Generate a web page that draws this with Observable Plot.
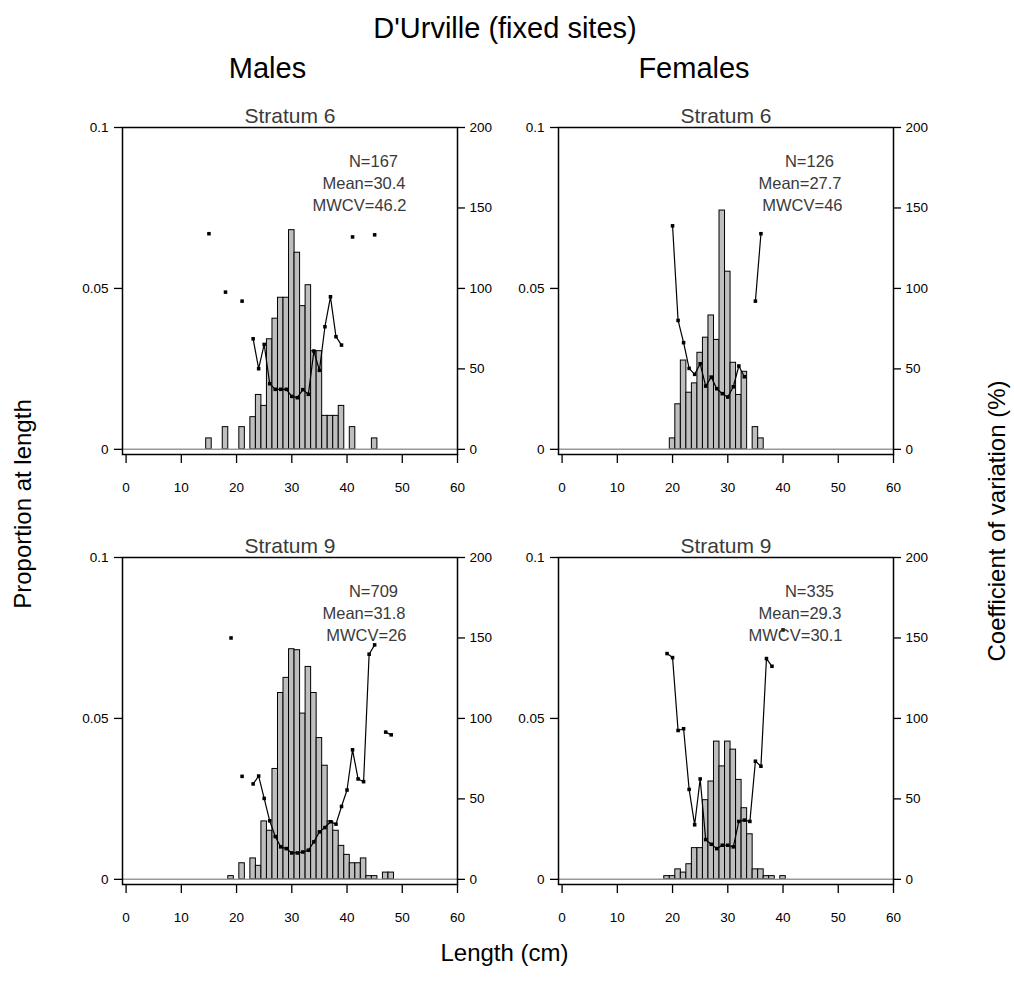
<!DOCTYPE html>
<html><head><meta charset="utf-8">
<script src="https://cdn.jsdelivr.net/npm/d3@7"></script>
<script src="https://cdn.jsdelivr.net/npm/@observablehq/plot@0.6"></script>
<style>
body{margin:0;background:#fff;}
#chart{position:relative;width:1014px;height:990px;font-family:"Liberation Sans",Arial,sans-serif;overflow:hidden;}
.panel{position:absolute;}
#overlay{position:absolute;left:0;top:0;}
</style></head><body><div id="chart"></div>
<script>
// ---- tick labels ----
const lengthTicks = [0, 10, 20, 30, 40, 50, 60];
const propTicks = [0, 0.05, 0.1];
const cvTicks = [0, 50, 100, 150, 200];

// ---- panel texts ----
const panelTitles = ["Stratum 6", "Stratum 6", "Stratum 9", "Stratum 9"];
const nValues = [167, 126, 709, 335];
const meanValues = [30.4, 27.7, 31.8, 29.3];
const mwcvValues = [46.2, 46, 26, 30.1];

// ---- Males, Stratum 6 ----
const maleS6Len  = [15, 18, 21, 23, 24, 25, 26, 27, 28, 29, 30, 31, 32, 33, 34, 35, 36, 37, 38, 39, 41, 45];
const maleS6Prop = [0.0034, 0.0069, 0.0069, 0.0100, 0.0169, 0.0135, 0.0342, 0.0406, 0.0471, 0.0471, 0.0681, 0.0611, 0.0445, 0.0510, 0.0305, 0.0305, 0.0104, 0.0104, 0.0104, 0.0135, 0.0069, 0.0034];
const maleS6CV   = [134, 97.7, 92.1, 68.7, 50.1, 65.2, 40.8, 37.3, 37.3, 37.3, 32.9, 32.1, 37.1, 34.2, 61.1, 49.1, 76.2, 94.8, 70.0, 64.8, 132, 133.3];

// ---- Females, Stratum 6 ----
const femaleS6Len  = [20, 21, 22, 23, 24, 25, 26, 27, 28, 29, 30, 31, 32, 33, 35, 36];
const femaleS6Prop = [0.0034, 0.0140, 0.0276, 0.0176, 0.0205, 0.0300, 0.0347, 0.0416, 0.0340, 0.0742, 0.0552, 0.0269, 0.0169, 0.0241, 0.0069, 0.0034];
const femaleS6CV   = [138.9, 80.1, 66.3, 50.3, 46.6, 53.2, 39.3, 44.9, 37.7, 34.6, 32.5, 38.9, 51.8, 45.1, 92.1, 134];

// ---- Males, Stratum 9 ----
const maleS9Len  = [19, 21, 23, 24, 25, 26, 27, 28, 29, 30, 31, 32, 33, 34, 35, 36, 37, 38, 39, 40, 41, 42, 43, 44, 45, 47, 48];
const maleS9Prop = [0.0010, 0.0050, 0.0065, 0.0042, 0.0180, 0.0151, 0.0343, 0.0579, 0.0626, 0.0715, 0.0712, 0.0515, 0.0660, 0.0579, 0.0439, 0.0353, 0.0180, 0.0151, 0.0104, 0.0076, 0.0050, 0.0050, 0.0065, 0.0010, 0.0010, 0.0021, 0.0021];
const maleS9CV   = [150, 64.0, 59.3, 64.2, 50.3, 36.4, 26.6, 20.2, 19.1, 16.4, 16.4, 17.0, 18.1, 23.3, 29.5, 32.2, 35.8, 34.3, 45.3, 55.5, 80.5, 62.4, 60.7, 139.9, 145.7, 91.5, 89.8];

// ---- Females, Stratum 9 ----
const femaleS9Len  = [19, 20, 21, 22, 23, 24, 25, 26, 27, 28, 29, 30, 31, 32, 33, 34, 35, 36, 37, 38, 40];
const femaleS9Prop = [0.0010, 0.0010, 0.0031, 0.0021, 0.0047, 0.0097, 0.0097, 0.0246, 0.0304, 0.0428, 0.0351, 0.0428, 0.0403, 0.0309, 0.0221, 0.0140, 0.0031, 0.0031, 0.0010, 0.0010, 0.0010];
const femaleS9CV   = [140.3, 137.8, 92.5, 93.6, 55.9, 33.9, 62.4, 24.7, 21.8, 19.1, 21.2, 21.2, 20.2, 36.0, 36.8, 36.0, 73.4, 70.3, 137.2, 132.4, 155];

const FONT = '"Liberation Sans", Arial, sans-serif';
const CV_TO_PROP = 1 / 2000; // right axis 0-200 spans the same height as 0-0.1

function makePanel(len, prop, cv, idx) {
  const rows = len.map((l, i) => ({len: l, prop: prop[i], cv: cv[i]}));
  let run = 0;
  rows.forEach((r, i) => { if (i > 0 && r.len - rows[i - 1].len > 1) run++; r.run = run; });
  const txt = {frameAnchor: "top-right", lineAnchor: "bottom", textAnchor: "end", fontSize: 16.5, fill: "#3a3a3a"};
  return Plot.plot({
    width: 445, height: 409,
    marginLeft: 60, marginRight: 50, marginTop: 32, marginBottom: 50,
    style: {background: "transparent", overflow: "visible", fontFamily: FONT, fontSize: "13.5px", color: "black"},
    x: {domain: [-0.65, 60], nice: false},
    y: {domain: [-0.0016, 0.1], nice: false},
    marks: [
      Plot.rect(rows, {x1: d => d.len - 0.5, x2: d => d.len + 0.5, y1: () => 0, y2: "prop",
        fill: "#bebebe", stroke: "black", strokeWidth: 1}),
      Plot.ruleY([0], {stroke: "#999", strokeWidth: 1.5}),
      Plot.line(rows, {x: "len", y: d => d.cv * CV_TO_PROP, z: "run", stroke: "black", strokeWidth: 1.2}),
      Plot.dot(rows, {x: "len", y: d => d.cv * CV_TO_PROP, symbol: "square", r: 2, fill: "black", stroke: "none"}),
      Plot.frame({stroke: "black", strokeWidth: 1.5}),
      Plot.axisX({ticks: lengthTicks, tickSize: 9, tickPadding: 19, label: null, tickFormat: d => String(d), strokeWidth: 1.3}),
      Plot.axisY({anchor: "left", ticks: propTicks, tickSize: 8, tickPadding: 6, label: null, tickFormat: d => String(d), strokeWidth: 1.3}),
      Plot.axisY({anchor: "right", ticks: cvTicks.map(v => v * CV_TO_PROP), tickSize: 7, tickPadding: 5, label: null,
        tickFormat: d => String(Math.round(d / CV_TO_PROP)), strokeWidth: 1.3}),
      Plot.text([panelTitles[idx]], {frameAnchor: "top", lineAnchor: "bottom", dy: -5, fontSize: 21, fill: "#3a3a3a"}),
      Plot.text([`N=${nValues[idx]}`], {...txt, dx: -59.5, dy: 39.7}),
      Plot.text([`Mean=${meanValues[idx]}`], {...txt, dx: -52, dy: 61.3}),
      Plot.text([`MWCV=${mwcvValues[idx]}`], {...txt, dx: -51, dy: 83.7})
    ]
  });
}

const chart = document.getElementById("chart");
const panels = [
  {len: maleS6Len, prop: maleS6Prop, cv: maleS6CV, left: 121.5, top: 127},
  {len: femaleS6Len, prop: femaleS6Prop, cv: femaleS6CV, left: 557.5, top: 127},
  {len: maleS9Len, prop: maleS9Prop, cv: maleS9CV, left: 121.5, top: 557},
  {len: femaleS9Len, prop: femaleS9Prop, cv: femaleS9CV, left: 557.5, top: 557}
];
panels.forEach((p, i) => {
  const el = makePanel(p.len, p.prop, p.cv, i);
  el.classList.add("panel");
  el.style.left = (p.left - 60) + "px";
  el.style.top = (p.top - 32) + "px";
  el.style.maxWidth = "none";
  chart.appendChild(el);
});

// ---- titles and shared axis labels ----
const svg = d3.select(chart).append("svg").attr("id", "overlay")
  .attr("width", 1014).attr("height", 990)
  .style("font-family", FONT).style("pointer-events", "none");
svg.append("text").attr("x", 505).attr("y", 37.5).attr("text-anchor", "middle").attr("font-size", 29).text("D'Urville (fixed sites)");
svg.append("text").attr("x", 267.5).attr("y", 77.5).attr("text-anchor", "middle").attr("font-size", 29).text("Males");
svg.append("text").attr("x", 694).attr("y", 77.5).attr("text-anchor", "middle").attr("font-size", 29).text("Females");
svg.append("text").attr("transform", "translate(31,504) rotate(-90)").attr("text-anchor", "middle").attr("font-size", 24).text("Proportion at length");
svg.append("text").attr("transform", "translate(1005,521) rotate(-90)").attr("text-anchor", "middle").attr("font-size", 24).text("Coefficient of variation (%)");
svg.append("text").attr("x", 504.5).attr("y", 961).attr("text-anchor", "middle").attr("font-size", 24).text("Length (cm)");
</script>
</body></html>
